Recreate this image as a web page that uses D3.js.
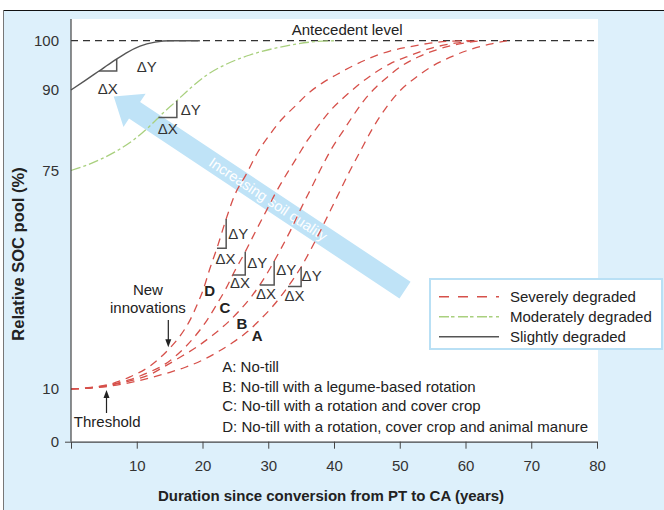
<!DOCTYPE html>
<html><head><meta charset="utf-8">
<script src="https://cdn.jsdelivr.net/npm/d3@7"></script>
<style>body{margin:0;background:#fff}svg{display:block}text{font-family:"Liberation Sans",Arial,sans-serif}</style>
</head><body><svg id="c" width="664" height="510"></svg>
<script>
// ---------- data ----------
const xTicks=[0,10,20,30,40,50,60,70,80];
const yTicks=[0,10,75,90,100];
const slightYears=[0,2.13,4.26,6.39,8.37,10.5,12.8,15.1,19.6];
const slightSOC=[90,91.9,93.85,95.8,97.5,98.9,99.7,100,100];
const moderateYears=[0,2.43,4.87,7.45,9.73,12,14,16,18.1,20.5,23.4,27.2,31.8,36.3,40.2];
const moderateSOC=[75,76,77.3,79,80.9,83.3,85.7,87.9,90.3,92.9,95.1,97.1,98.7,99.7,100];
const severeDYears=[0,3.04,6.08,8.97,12,14.75,16.6,18.1,19.3,20.1,21.1,22.2,23.6,24.9,26.6,28.4,30.3,32.1,34.1,36,38.2,40.5,42.9,45.5,48.5,51.6,54.6,57.6,60.7];
const severeDSOC=[10,10.45,11.5,13.6,16.8,21.6,25.8,30.5,35.6,39.5,45.7,51.9,60.6,67.7,73.7,78.4,81.8,84.6,87,89.3,91.4,93.2,94.9,96.5,97.9,98.8,99.5,99.9,100];
const severeCYears=[0,3.04,6.08,8.97,12,14.3,16.6,18.9,20.7,22.2,23.6,24.9,26.5,28.1,29.7,31.2,32.9,34.4,35.9,37.6,39.4,41.4,43.5,45.9,48.5,51.6,55.1,58.4,61.9];
const severeCSOC=[10,10.4,11.3,12.8,15.1,17.4,21,25.8,30.5,35.3,40,45.1,50.8,57,63,68.6,74.3,77.5,80.5,83.3,86.1,88.5,90.8,93.2,95.3,97,98.6,99.5,100];
const severeBYears=[0,3.04,6.08,8.97,12,14.3,16.9,19.2,21.4,23.9,25.7,27.4,28.9,30.4,31.9,33.5,35,36.7,38.2,39.8,41.4,42.9,44.4,46.1,48.1,50.3,52.8,55.7,58.9,62.5];
const severeBSOC=[10,10.36,11.2,12.4,14.3,16.8,19.8,22.6,25.8,29.9,33.5,37.4,41.5,46.3,51.6,57.6,63.8,70.4,75.8,79.4,82.4,85.2,87.8,90.2,92.6,94.9,96.7,98.2,99.3,100];
const severeAYears=[0,3.04,6.08,8.97,12,14.75,17.3,19.9,22.2,24.5,26.8,28.7,30.6,32.2,33.6,35,36.5,38,39.5,40.9,42.4,44,45.8,47.8,50,52.3,54.9,57.6,60.7,63.7,66.3];
const severeASOC=[10,10.3,10.9,11.9,13.3,14.8,16.4,18.5,20.9,23.7,27,30.5,34.4,38.3,42.1,46.3,51.6,57.3,63.3,68.9,74.85,78.6,82.7,86.5,89.8,92.4,94.8,96.6,98.2,99.3,100];
const antecedentLevel=100;
const practiceLabels=["A: No-till","B: No-till with a legume-based rotation","C: No-till with a rotation and cover crop","D: No-till with a rotation, cover crop and animal manure"];
const legendLabels=["Severely degraded","Moderately degraded","Slightly degraded"];

// ---------- setup ----------
const svg=d3.select("#c");
const W=664,H=510;
const x=d3.scaleLinear().domain([0,80]).range([71,597]);
const y=d3.scaleLinear().domain([0,10,75,90,100]).range([441.7,389,170.5,90,40.7]);
const plotTop=19, plotRight=598;
const BG="#ddf0fb", RED="#d6504a", GREEN="#a9d07e", DARK="#444", FS=15;

svg.append("rect").attr("x",3).attr("y",10).attr("width",W-3).attr("height",H-10).attr("fill",BG);
svg.append("line").attr("x1",3).attr("x2",W).attr("y1",10.5).attr("y2",10.5).attr("stroke","#111").attr("stroke-width",1.2);
svg.append("line").attr("x1",3.5).attr("x2",3.5).attr("y1",10).attr("y2",H).attr("stroke","#777").attr("stroke-width",1);
svg.append("rect").attr("x",x(0)).attr("y",plotTop).attr("width",plotRight-x(0)).attr("height",y(0)-plotTop).attr("fill","#fff");

// ---------- big arrow ----------
const tail=[x(50.8),y(39.4)], tip=[x(6.5),y(88.8)];
(function(){
  const dx=tip[0]-tail[0], dy=tip[1]-tail[1], L=Math.hypot(dx,dy);
  const u=[dx/L,dy/L], n=[-u[1],u[0]];
  const hw=10, hl=25, hh=20;
  const b=[tip[0]-hl*u[0],tip[1]-hl*u[1]];
  const pts=[[tail[0]+hw*n[0],tail[1]+hw*n[1]],[b[0]+hw*n[0],b[1]+hw*n[1]],[b[0]+hh*n[0],b[1]+hh*n[1]],tip,
             [b[0]-hh*n[0],b[1]-hh*n[1]],[b[0]-hw*n[0],b[1]-hw*n[1]],[tail[0]-hw*n[0],tail[1]-hw*n[1]]];
  svg.append("polygon").attr("points",pts.map(p=>p.join(",")).join(" ")).attr("fill","#bfe3f7");
  const ang=Math.atan2(dy,dx)*180/Math.PI+180;
  const c=[tail[0]+dx*0.47,tail[1]+dy*0.47];
  svg.append("text").attr("transform",`translate(${c[0]},${c[1]}) rotate(${ang})`).attr("text-anchor","middle")
    .attr("dominant-baseline","central").attr("fill","#fff").attr("font-size",14.5).text("Increasing soil quality");
})();

// ---------- curves ----------
const line=d3.line().x(d=>x(d[0])).y(d=>y(d[1])).curve(d3.curveMonotoneX);
const zip=(a,b)=>a.map((v,i)=>[v,b[i]]);
svg.append("line").attr("x1",x(0)).attr("x2",plotRight).attr("y1",y(antecedentLevel)).attr("y2",y(antecedentLevel))
  .attr("stroke","#333").attr("stroke-width",1.2).attr("stroke-dasharray","7,5");
const severe=[[severeAYears,severeASOC],[severeBYears,severeBSOC],[severeCYears,severeCSOC],[severeDYears,severeDSOC]];
severe.forEach(s=>svg.append("path").attr("d",line(zip(s[0],s[1]))).attr("fill","none").attr("stroke",RED).attr("stroke-width",1.3).attr("stroke-dasharray","8,6"));
svg.append("path").attr("d",line(zip(moderateYears,moderateSOC))).attr("fill","none").attr("stroke",GREEN).attr("stroke-width",1.3).attr("stroke-dasharray","10,3,3,3");
svg.append("path").attr("d",line(zip(slightYears,slightSOC))).attr("fill","none").attr("stroke","#555").attr("stroke-width",1.4);

// ---------- axes ----------
const yAxis=svg.append("g").attr("transform",`translate(${x(0)},0)`).call(d3.axisLeft(y).tickValues(yTicks).tickSize(6).tickPadding(6).tickFormat(d3.format("d")));
yAxis.select(".domain").remove();
yAxis.selectAll(".tick line").attr("stroke",DARK).attr("display",d=>d===0?null:"none");
yAxis.selectAll("text").attr("font-size",FS).attr("fill","#333").attr("font-family","Liberation Sans, Arial, sans-serif");
svg.append("line").attr("x1",x(0)).attr("x2",x(0)).attr("y1",plotTop).attr("y2",y(0)).attr("stroke",DARK).attr("stroke-width",1.2);
const xAxis=svg.append("g").attr("transform",`translate(0,${y(0)})`).call(d3.axisBottom(x).tickValues(xTicks).tickSize(7).tickPadding(12).tickSizeOuter(0).tickFormat(d=>d===0?"":d));
xAxis.select(".domain").attr("stroke",DARK).attr("stroke-width",1.2);
xAxis.selectAll(".tick line").attr("stroke",DARK);
xAxis.selectAll("text").attr("font-size",FS).attr("fill","#333").attr("font-family","Liberation Sans, Arial, sans-serif");
svg.append("text").attr("x",331).attr("y",500.5).attr("text-anchor","middle").attr("font-weight","bold").attr("font-size",FS).attr("fill","#222")
  .text("Duration since conversion from PT to CA (years)");
svg.append("text").attr("transform","translate(24,254) rotate(-90)").attr("text-anchor","middle").attr("font-weight","bold").attr("font-size",16.5).attr("fill","#222")
  .text("Relative SOC pool (%)");

// ---------- annotations ----------
svg.append("text").attr("x",x(42)).attr("y",y(101.15)).attr("text-anchor","middle").attr("font-size",FS).attr("fill","#222").text("Antecedent level");
const interp=(xs,ys,v)=>{for(let i=1;i<xs.length;i++){if(v<=xs[i]){const t=(v-xs[i-1])/(xs[i]-xs[i-1]);return ys[i-1]+t*(ys[i]-ys[i-1]);}}return ys[ys.length-1];};
const tris=[
 {xs:slightYears,ys:slightSOC,x0:4.26,x1:6.95,dxX:0,dyX:17,dxY:30,dyY:1.5},
 {xs:moderateYears,ys:moderateSOC,x0:13.3,x1:16.1,dxX:0,dyX:11,dxY:14,dyY:0},
 {xs:severeDYears,ys:severeDSOC,x0:22.2,x1:23.6,dxX:4,dyX:10,dxY:12,dyY:0},
 {xs:severeCYears,ys:severeCSOC,x0:24.6,x1:26.5,dxX:1,dyX:8,dxY:12,dyY:-1},
 {xs:severeBYears,ys:severeBSOC,x0:28.7,x1:30.9,dxX:-1,dyX:8.5,dxY:12,dyY:-3},
 {xs:severeAYears,ys:severeASOC,x0:33,x1:35,dxX:0,dyX:8.5,dxY:10.5,dyY:-1}
];
tris.forEach(t=>{
  const px0=x(t.x0), px1=x(t.x1), py0=y(interp(t.xs,t.ys,t.x0)), py1=y(interp(t.xs,t.ys,t.x1));
  svg.append("path").attr("d",`M${px0},${py0}H${px1}V${py1}`).attr("fill","none").attr("stroke","#555").attr("stroke-width",1.5);
  svg.append("text").attr("x",(px0+px1)/2+t.dxX).attr("y",py0+t.dyX).attr("text-anchor","middle").attr("dominant-baseline","central").attr("font-size",FS).attr("fill","#333").text("ΔX");
  svg.append("text").attr("x",px1+t.dxY).attr("y",(py0+py1)/2+t.dyY).attr("text-anchor","middle").attr("dominant-baseline","central").attr("font-size",FS).attr("fill","#333").text("ΔY");
});
[["D",21.1,39.4],["C",23.4,34.3],["B",26,29.6],["A",28.3,25.8]].forEach(l=>
  svg.append("text").attr("x",x(l[1])).attr("y",y(l[2])).attr("text-anchor","middle").attr("dominant-baseline","central").attr("font-weight","bold").attr("font-size",FS).attr("fill","#222").text(l[0]));
svg.append("text").attr("x",x(11.7)).attr("y",y(39.7)).attr("text-anchor","middle").attr("dominant-baseline","central").attr("font-size",FS).attr("fill","#222").text("New");
svg.append("text").attr("x",x(11.7)).attr("y",y(34.1)).attr("text-anchor","middle").attr("dominant-baseline","central").attr("font-size",FS).attr("fill","#222").text("innovations");
svg.append("text").attr("x",x(5.5)).attr("y",y(3.74)).attr("text-anchor","middle").attr("dominant-baseline","central").attr("font-size",FS).attr("fill","#222").text("Threshold");
function smallArrow(xv,yFrom,yTo){
  const X=x(xv), Y0=y(yFrom), Y1=y(yTo), s=Math.sign(Y1-Y0);
  svg.append("line").attr("x1",X).attr("x2",X).attr("y1",Y0).attr("y2",Y1-s*6).attr("stroke","#222").attr("stroke-width",1.2);
  svg.append("path").attr("d",`M${X},${Y1}L${X-3},${Y1-s*8}L${X+3},${Y1-s*8}Z`).attr("fill","#222");
}
smallArrow(14.8,30.5,22.4);
smallArrow(5.4,5.45,9.8);
const pbY=[366,386,405.5,426];
practiceLabels.forEach((t,i)=>svg.append("text").attr("x",x(23)).attr("y",pbY[i]).attr("dominant-baseline","central").attr("font-size",FS).attr("fill","#222").text(t));

// ---------- legend ----------
const lg=svg.append("g");
lg.append("rect").attr("x",430).attr("y",279).attr("width",232).attr("height",70).attr("fill","#fff").attr("stroke","#b9e0f5").attr("stroke-width",2);
const lstyles=[{c:RED,d:"10,9"},{c:GREEN,d:"10,2,3.5,3.5"},{c:"#555",d:null}];
legendLabels.forEach((t,i)=>{
  const yy=296.7+i*20;
  lg.append("line").attr("x1",439).attr("x2",499).attr("y1",yy).attr("y2",yy).attr("stroke",lstyles[i].c).attr("stroke-width",1.4).attr("stroke-dasharray",lstyles[i].d);
  lg.append("text").attr("x",510).attr("y",yy).attr("dominant-baseline","central").attr("font-size",FS).attr("fill","#222").text(t);
});
</script></body></html>
